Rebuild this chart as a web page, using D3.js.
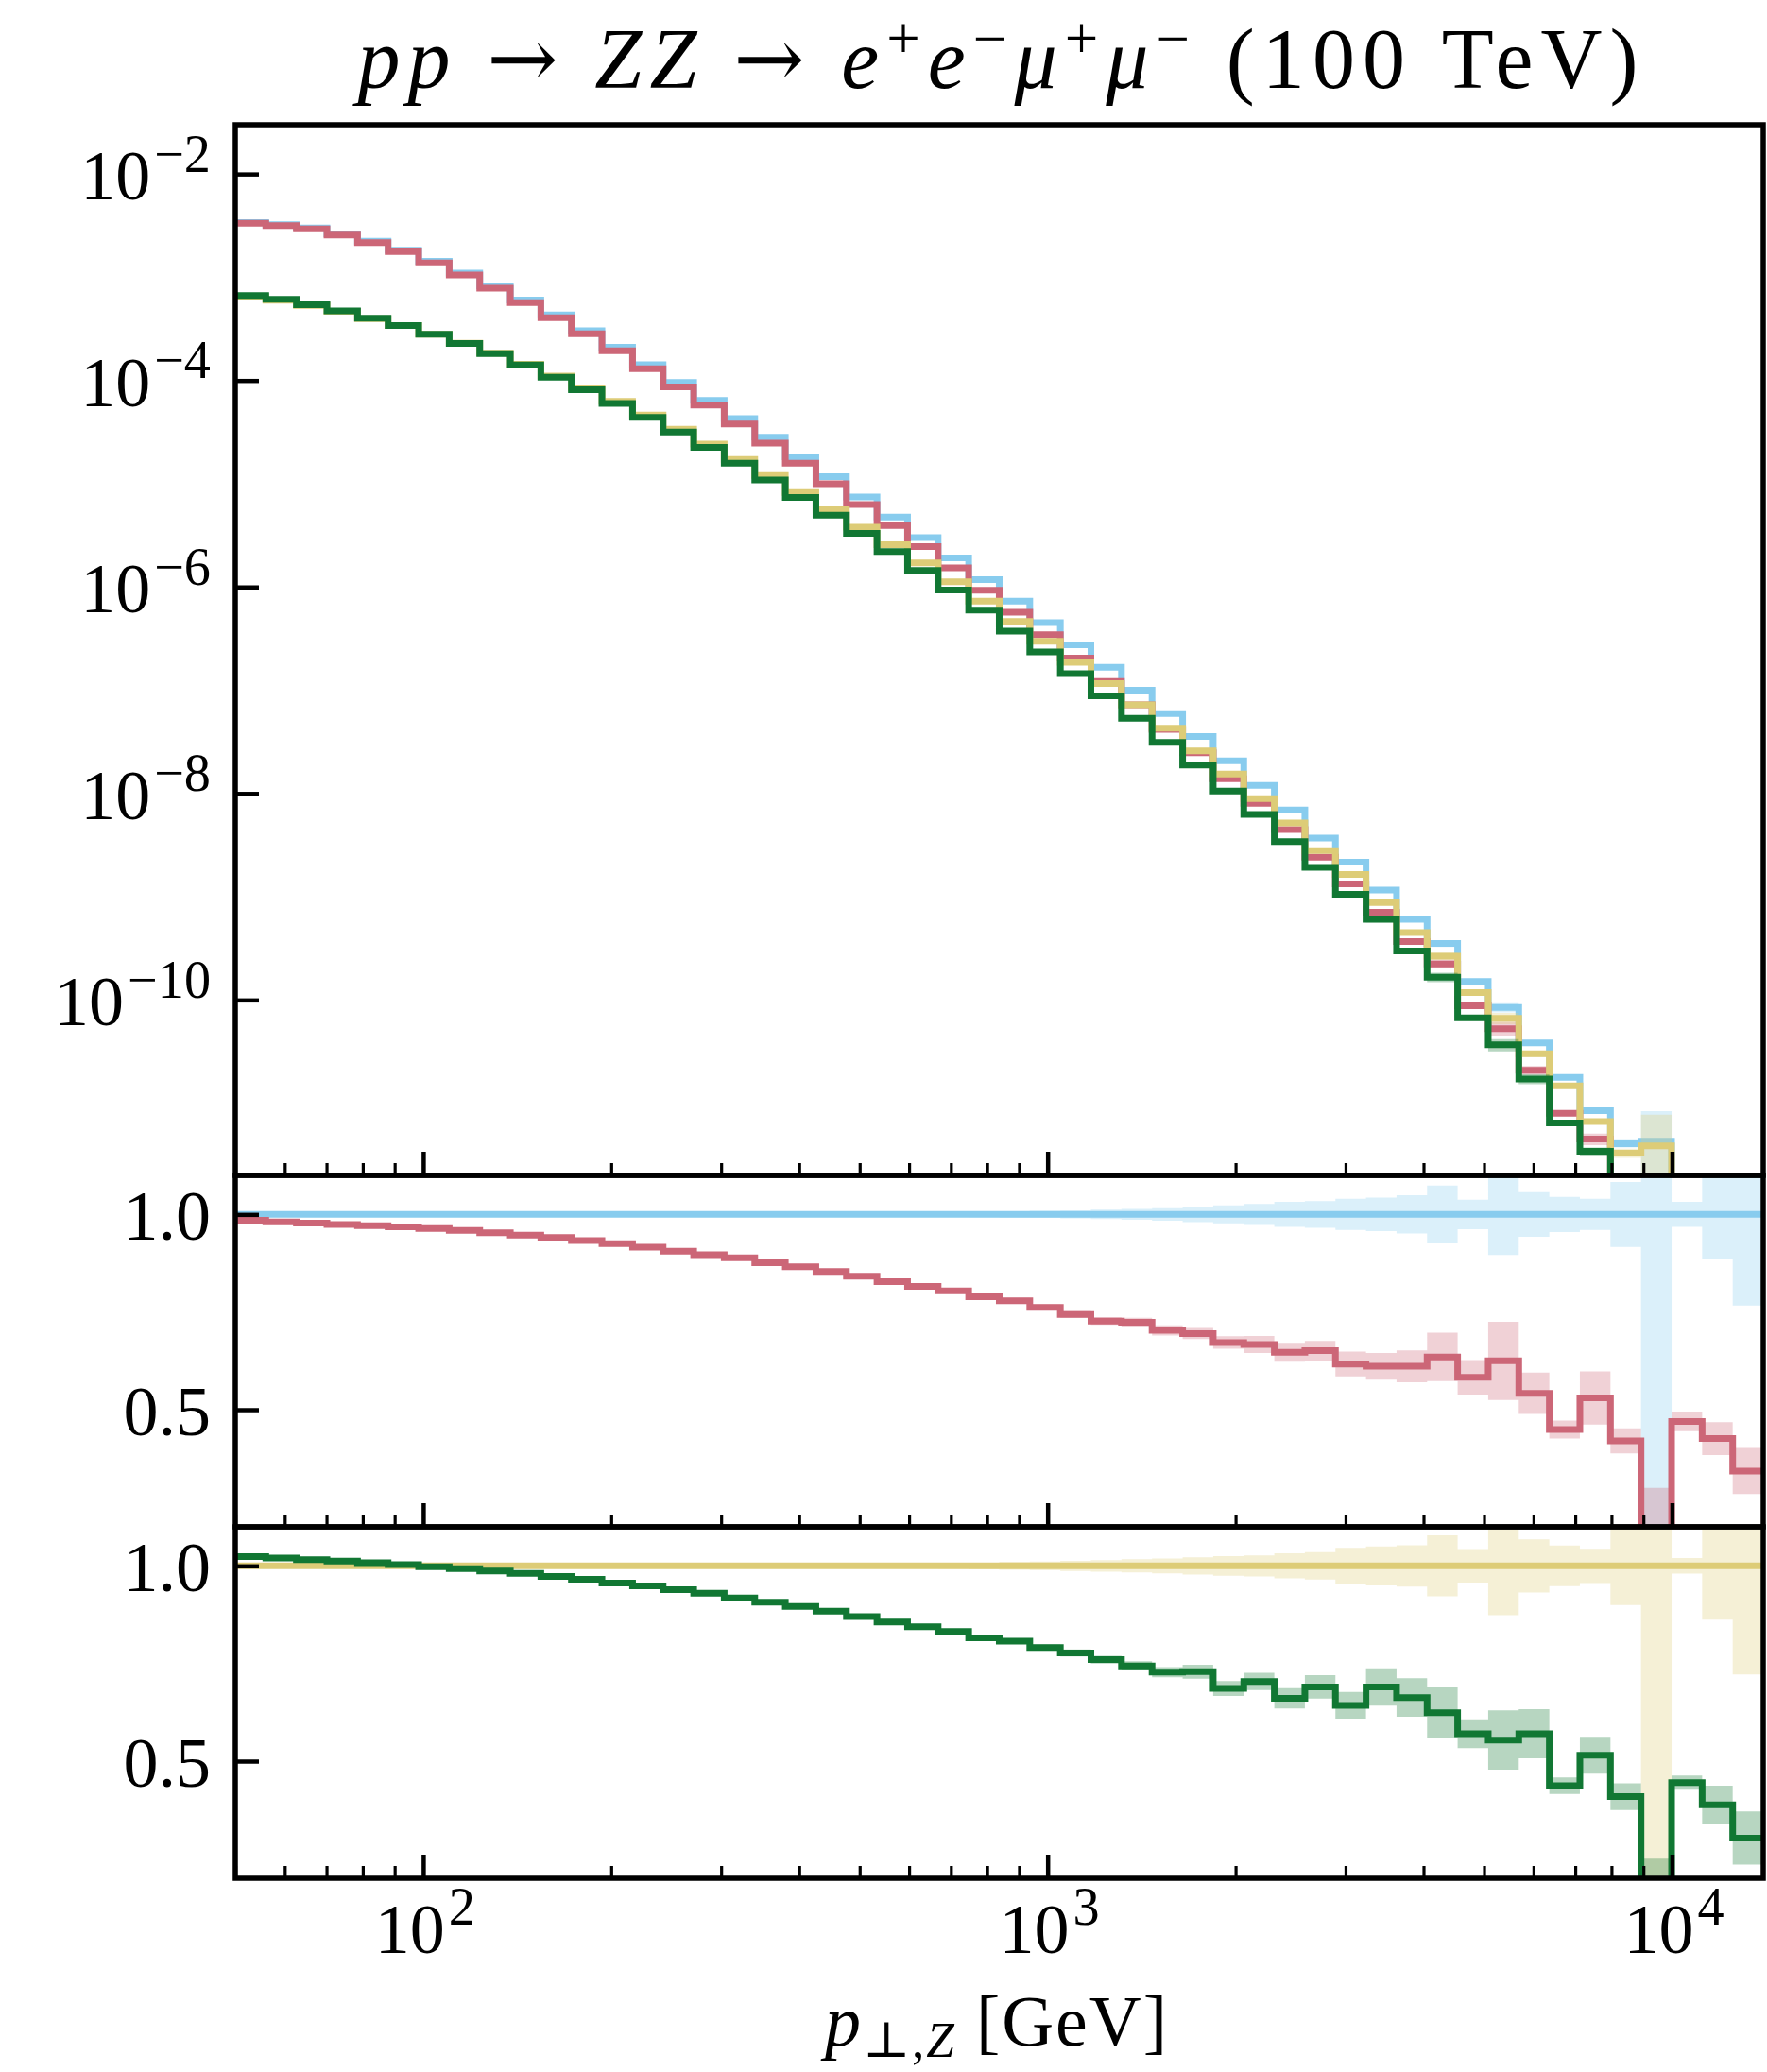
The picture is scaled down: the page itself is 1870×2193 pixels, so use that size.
<!DOCTYPE html>
<html><head><meta charset="utf-8">
<script src="https://cdn.jsdelivr.net/npm/d3@7"></script>
<style>body{margin:0;background:#fff} svg{display:block} text{white-space:pre}</style>
</head><body><div id="chart"></div>
<script>
// ---------------- data ----------------
const binEdges = [50, 55.96, 62.64, 70.11, 78.48, 87.84, 98.32, 110.05, 123.17, 137.87, 154.3, 172.7, 193.3, 216.4, 242.2, 271.1, 303.4, 339.6, 380.1, 425.5, 476.2, 533.0, 596.6, 667.8, 747.4, 836.6, 936.4, 1048.1, 1173.1, 1313.0, 1469.8, 1645.3, 1841.6, 2061.3, 2307.2, 2582.4, 2890.4, 3235.2, 3621.1, 4053.0, 4536.0, 5077.6, 5683.3, 6361.2, 7120.0, 7970.0, 8921.0, 9985.0, 11176, 12509, 14000];

// blue histogram (main panel)
const blueValues = [3.39e-3, 3.23e-3, 3.00e-3, 2.63e-3, 2.23e-3, 1.83e-3, 1.43e-3, 1.10e-3, 8.24e-4, 6.01e-4, 4.32e-4, 3.04e-4, 2.10e-4, 1.42e-4, 9.57e-5, 6.43e-5, 4.27e-5, 2.82e-5, 1.82e-5, 1.17e-5, 7.45e-6, 4.76e-6, 3.01e-6, 1.91e-6, 1.18e-6, 7.29e-7, 4.52e-7, 2.75e-7, 1.67e-7, 9.99e-8, 5.93e-8, 3.56e-8, 2.07e-8, 1.20e-8, 6.92e-9, 3.70e-9, 2.16e-9, 1.16e-9, 6.04e-10, 3.52e-10, 1.51e-10, 8.45e-11, 3.85e-11, 1.78e-11, 8.49e-12, 4.06e-12, 4.30e-12, 1.2e-12, 6.0e-13, 3.0e-13];
// yellow histogram (main panel)
const yellowValues = [6.49e-4, 6.00e-4, 5.34e-4, 4.67e-4, 3.98e-4, 3.40e-4, 2.81e-4, 2.30e-4, 1.84e-4, 1.44e-4, 1.106e-4, 8.41e-5, 6.28e-5, 4.62e-5, 3.38e-5, 2.42e-5, 1.72e-5, 1.20e-5, 8.22e-6, 5.60e-6, 3.79e-6, 2.57e-6, 1.71e-6, 1.12e-6, 7.30e-7, 4.63e-7, 2.97e-7, 1.86e-7, 1.16e-7, 7.20e-8, 4.28e-8, 2.58e-8, 1.54e-8, 8.91e-9, 5.18e-9, 2.79e-9, 1.64e-9, 8.77e-10, 4.50e-10, 2.66e-10, 1.18e-10, 6.65e-11, 3.01e-11, 1.47e-11, 6.64e-12, 3.29e-12, 3.87e-12, 1.0e-12, 5.0e-13, 2.0e-13];
// red / blue ratio (middle panel)
const redRatio = [0.985, 0.981, 0.978, 0.974, 0.971, 0.968, 0.964, 0.959, 0.953, 0.947, 0.941, 0.933, 0.925, 0.916, 0.906, 0.897, 0.889, 0.876, 0.866, 0.854, 0.842, 0.828, 0.816, 0.804, 0.789, 0.779, 0.762, 0.744, 0.727, 0.724, 0.703, 0.695, 0.672, 0.667, 0.647, 0.651, 0.617, 0.611, 0.611, 0.635, 0.583, 0.625, 0.542, 0.449, 0.530, 0.420, 0.05, 0.470, 0.426, 0.343];
// green / yellow ratio (bottom panel)
const greenRatio = [1.0235, 1.020, 1.016, 1.012, 1.008, 1.003, 0.998, 0.993, 0.987, 0.981, 0.973, 0.966, 0.956, 0.949, 0.939, 0.930, 0.918, 0.907, 0.896, 0.884, 0.870, 0.856, 0.844, 0.832, 0.816, 0.807, 0.791, 0.777, 0.760, 0.744, 0.728, 0.729, 0.686, 0.704, 0.661, 0.690, 0.643, 0.690, 0.663, 0.624, 0.570, 0.554, 0.570, 0.437, 0.515, 0.409, 0.05, 0.445, 0.388, 0.303];
// relative uncertainty half-widths (ratio units)
const blueErr = [0.001, 0.001, 0.001, 0.001, 0.001, 0.001, 0.001, 0.001, 0.001, 0.001, 0.002, 0.002, 0.002, 0.002, 0.002, 0.003, 0.003, 0.003, 0.004, 0.004, 0.005, 0.005, 0.006, 0.006, 0.007, 0.008, 0.009, 0.010, 0.012, 0.014, 0.016, 0.020, 0.023, 0.027, 0.032, 0.034, 0.040, 0.043, 0.049, 0.074, 0.038, 0.104, 0.057, 0.045, 0.040, 0.083, 0.95, 0.032, 0.113, 0.233];
const redErr = [0.002, 0.002, 0.002, 0.002, 0.002, 0.002, 0.002, 0.002, 0.002, 0.002, 0.002, 0.002, 0.002, 0.002, 0.002, 0.003, 0.003, 0.003, 0.004, 0.004, 0.004, 0.005, 0.005, 0.006, 0.006, 0.007, 0.008, 0.009, 0.010, 0.011, 0.013, 0.014, 0.016, 0.022, 0.024, 0.025, 0.032, 0.034, 0.041, 0.062, 0.044, 0.100, 0.053, 0.023, 0.068, 0.032, 0.25, 0.025, 0.042, 0.059];
const yellowErr = [0.001, 0.001, 0.001, 0.001, 0.001, 0.001, 0.001, 0.001, 0.001, 0.001, 0.002, 0.002, 0.002, 0.002, 0.002, 0.003, 0.003, 0.003, 0.004, 0.004, 0.005, 0.005, 0.006, 0.007, 0.008, 0.010, 0.011, 0.013, 0.015, 0.017, 0.019, 0.022, 0.025, 0.027, 0.032, 0.035, 0.046, 0.050, 0.053, 0.078, 0.043, 0.126, 0.068, 0.052, 0.044, 0.100, 1.0, 0.020, 0.138, 0.278];
const greenErr = [0.002, 0.002, 0.002, 0.002, 0.002, 0.002, 0.002, 0.002, 0.002, 0.002, 0.002, 0.002, 0.002, 0.002, 0.002, 0.003, 0.003, 0.003, 0.004, 0.004, 0.004, 0.005, 0.005, 0.006, 0.006, 0.007, 0.008, 0.009, 0.010, 0.012, 0.013, 0.018, 0.019, 0.022, 0.026, 0.030, 0.034, 0.048, 0.049, 0.066, 0.037, 0.076, 0.063, 0.021, 0.047, 0.034, 0.20, 0.018, 0.049, 0.068];

const xMajorTicks = [100, 1000, 10000];
const xMajorExp = ["2", "3", "4"];
const xMinorTicks = [50, 60, 70, 80, 90, 200, 300, 400, 500, 600, 700, 800, 900, 2000, 3000, 4000, 5000, 6000, 7000, 8000, 9000];
const mainYTicks = [1e-2, 1e-4, 1e-6, 1e-8, 1e-10];
const mainYExp = ["\u22122", "\u22124", "\u22126", "\u22128", "\u221210"];
const ratioTicks = [1.0, 0.5];
const ratioTickLabels = ["1.0", "0.5"];
const titleRuns = [
  {t: "pp", it: true}, {t: " "}, {t: "\u2192", arrow: true}, {t: " "}, {t: "ZZ", it: true}, {t: " "}, {t: "\u2192", arrow: true}, {t: " "},
  {t: "e", it: true}, {t: "+", sup: true}, {t: "e", it: true}, {t: "\u2212", sup: true},
  {t: "\u03bc", it: true}, {t: "+", sup: true}, {t: "\u03bc", it: true}, {t: "\u2212", sup: true},
  {t: " (100 TeV)"}
];
const xLabelRuns = [{t: "p", it: true}, {t: "\u22a5,", sub: true}, {t: "Z", sub: true, it: true}, {t: " [GeV]"}];

// ---------------- layout ----------------
const W = 1870, H = 2193;
const L = 249, R = 1866;
const MAIN = [132, 1244], R1 = [1244, 1616], R2 = [1616, 1988];
const FONT = '"Liberation Serif", "DejaVu Serif", serif';
const FS = 74;
const COL = {blue: "#88CCEE", red: "#CC6677", yellow: "#DDCC77", green: "#117733"};
const LW = 7, BAND_OP = 0.3;

const svg = d3.select("#chart").append("svg").attr("width", W).attr("height", H)
  .attr("font-family", FONT);
svg.append("rect").attr("width", W).attr("height", H).attr("fill", "#fff");

const x = d3.scaleLog().domain([50, 14000]).range([L, R]);
const yMain = d3.scaleLog().domain([2e-12, 3e-2]).range([MAIN[1], MAIN[0]]);
const yR1 = d3.scaleLinear().domain([0.2, 1.1]).range([R1[1], R1[0]]);
const yR2 = d3.scaleLinear().domain([0.2, 1.1]).range([R2[1], R2[0]]);

const n = blueValues.length;
function stepPts(vals) {
  const p = vals.map((v, i) => ({x: binEdges[i], v}));
  p.push({x: binEdges[n], v: vals[n - 1]});
  return p;
}
function bandPts(lo, hi) {
  const p = lo.map((v, i) => ({x: binEdges[i], lo: v, hi: hi[i]}));
  p.push({x: binEdges[n], lo: lo[n - 1], hi: hi[n - 1]});
  return p;
}

// derived series (ratio -> absolute)
const redValues = blueValues.map((b, i) => b * redRatio[i]);
const greenValues = yellowValues.map((b, i) => b * greenRatio[i]);

function clipFor(id, top, bottom) {
  svg.append("clipPath").attr("id", id).append("rect")
    .attr("x", L).attr("y", top).attr("width", R - L).attr("height", bottom - top);
  return svg.append("g").attr("clip-path", `url(#${id})`);
}

function drawBand(g, y, lo, hi, color, isLog) {
  const f = v => isLog ? Math.max(v, 1e-30) : v;
  const area = d3.area().x(d => x(d.x)).y0(d => y(f(d.lo))).y1(d => y(f(d.hi))).curve(d3.curveStepAfter);
  g.append("path").attr("d", area(bandPts(lo, hi))).attr("fill", color).attr("fill-opacity", BAND_OP).attr("stroke", "none");
}
function drawLine(g, y, vals, color) {
  const line = d3.line().x(d => x(d.x)).y(d => y(d.v)).curve(d3.curveStepAfter);
  g.append("path").attr("d", line(stepPts(vals))).attr("fill", "none").attr("stroke", color)
    .attr("stroke-width", LW).attr("stroke-linejoin", "miter");
}

// ---- main panel ----
const gm = clipFor("clipMain", MAIN[0], MAIN[1]);
drawBand(gm, yMain, blueValues.map((v, i) => v * (1 - blueErr[i])), blueValues.map((v, i) => v * (1 + blueErr[i])), COL.blue, true);
drawLine(gm, yMain, blueValues, COL.blue);
drawBand(gm, yMain, blueValues.map((v, i) => v * (redRatio[i] - redErr[i])), blueValues.map((v, i) => v * (redRatio[i] + redErr[i])), COL.red, true);
drawLine(gm, yMain, redValues, COL.red);
drawBand(gm, yMain, yellowValues.map((v, i) => v * (1 - yellowErr[i])), yellowValues.map((v, i) => v * (1 + yellowErr[i])), COL.yellow, true);
drawLine(gm, yMain, yellowValues, COL.yellow);
drawBand(gm, yMain, yellowValues.map((v, i) => v * (greenRatio[i] - greenErr[i])), yellowValues.map((v, i) => v * (greenRatio[i] + greenErr[i])), COL.green, true);
drawLine(gm, yMain, greenValues, COL.green);

// ---- ratio panel 1 (red / blue) ----
const g1 = clipFor("clipR1", R1[0], R1[1]);
drawBand(g1, yR1, blueErr.map(e => 1 - e), blueErr.map(e => 1 + e), COL.blue, false);
drawBand(g1, yR1, redRatio.map((r, i) => r - redErr[i]), redRatio.map((r, i) => r + redErr[i]), COL.red, false);
drawLine(g1, yR1, blueValues.map(() => 1), COL.blue);
drawLine(g1, yR1, redRatio, COL.red);

// ---- ratio panel 2 (green / yellow) ----
const g2 = clipFor("clipR2", R2[0], R2[1]);
drawBand(g2, yR2, yellowErr.map(e => 1 - e), yellowErr.map(e => 1 + e), COL.yellow, false);
drawBand(g2, yR2, greenRatio.map((r, i) => r - greenErr[i]), greenRatio.map((r, i) => r + greenErr[i]), COL.green, false);
drawLine(g2, yR2, yellowValues.map(() => 1), COL.yellow);
drawLine(g2, yR2, greenRatio, COL.green);

// ---------------- axes ----------------
const MAJ = 25, MIN = 13;
function styleAxis(g, w) {
  g.select(".domain").remove();
  g.selectAll(".tick line").attr("stroke", "#000").attr("stroke-width", w);
  g.selectAll(".tick text").remove();
}
[MAIN, R1, R2].forEach(p => {
  const gx = svg.append("g").attr("transform", `translate(0,${p[1]})`);
  gx.append("g").call(d3.axisBottom(x).tickValues(xMajorTicks).tickSize(-MAJ).tickFormat("")).call(g => styleAxis(g, 4.5));
  gx.append("g").call(d3.axisBottom(x).tickValues(xMinorTicks).tickSize(-MIN).tickFormat("")).call(g => styleAxis(g, 3.2));
});
svg.append("g").attr("transform", `translate(${L},0)`)
  .call(d3.axisLeft(yMain).tickValues(mainYTicks).tickSize(-MAJ).tickFormat("")).call(g => styleAxis(g, 4.5));
svg.append("g").attr("transform", `translate(${L},0)`)
  .call(d3.axisLeft(yR1).tickValues(ratioTicks).tickSize(-MAJ).tickFormat("")).call(g => styleAxis(g, 4.5));
svg.append("g").attr("transform", `translate(${L},0)`)
  .call(d3.axisLeft(yR2).tickValues(ratioTicks).tickSize(-MAJ).tickFormat("")).call(g => styleAxis(g, 4.5));

// frames
[MAIN, R1, R2].forEach(p => {
  svg.append("rect").attr("x", L).attr("y", p[0]).attr("width", R - L).attr("height", p[1] - p[0])
    .attr("fill", "none").attr("stroke", "#000").attr("stroke-width", 5.5);
});

// ---------------- labels ----------------
function powLabel(xx, yy, exp, anchor) {
  const t = svg.append("text").attr("x", xx).attr("y", yy).attr("font-size", FS).attr("text-anchor", anchor).attr("fill", "#000");
  t.append("tspan").text("10");
  t.append("tspan").text(exp).attr("font-size", FS * 0.76).attr("dy", -0.4 * FS).attr("dx", 4);
}
mainYTicks.forEach((v, i) => powLabel(223, yMain(v) + 27, mainYExp[i], "end"));
[yR1, yR2].forEach(ys => ratioTicks.forEach((v, i) => {
  svg.append("text").attr("x", 223).attr("y", ys(v) + 27).attr("font-size", FS).attr("text-anchor", "end").text(ratioTickLabels[i]);
}));
xMajorTicks.forEach((v, i) => powLabel(x(v) + 2, 2067, xMajorExp[i], "middle"));

function richText(xx, yy, runs, size, len) {
  const t = svg.append("text").attr("x", xx).attr("y", yy).attr("font-size", size).attr("text-anchor", "middle").attr("fill", "#000");
  let cur = 0;
  runs.forEach(r => {
    const target = r.sup ? -0.34 * size : (r.sub ? 0.16 * size : 0);
    const ts = t.append("tspan").text(r.t).attr("dy", target - cur);
    cur = target;
    if (r.it) ts.attr("font-style", "italic");
    if (r.sup || r.sub) ts.attr("font-size", size * 0.7);
    if (r.arrow) ts.attr("font-family", '"DejaVu Serif", serif');
  });
  if (len) t.attr("textLength", len).attr("lengthAdjust", "spacing");
  return t;
}
richText(1056, 93, titleRuns, 90, 1355);
richText(1054, 2165, xLabelRuns, 76, 362);
</script>
</body></html>
